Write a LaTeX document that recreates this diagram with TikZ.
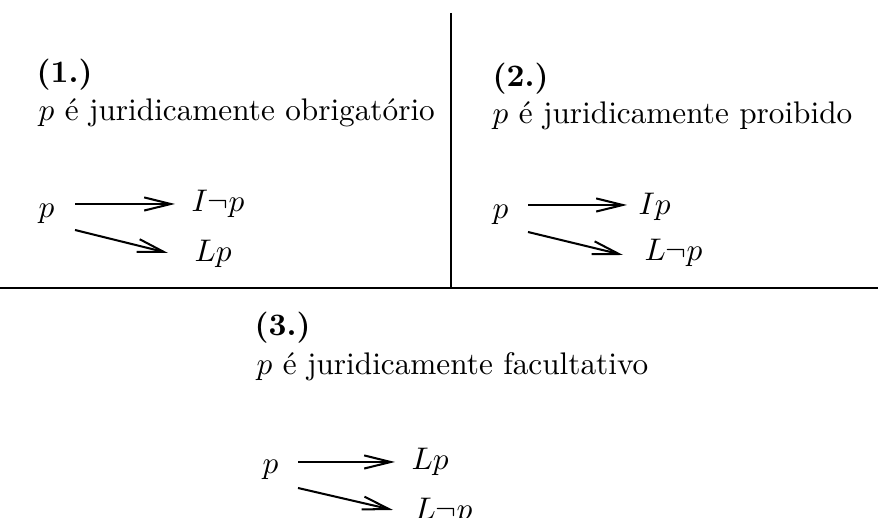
\documentclass[tikz,border=0pt]{standalone}
\usetikzlibrary{arrows.meta}
\begin{document}
\begin{tikzpicture}[x=0.32pt,y=-0.32pt,
  lbl/.style={anchor=base west,inner sep=0pt,font=\normalsize},
  rule/.style={line width=0.75pt},
  arr/.style={line width=0.65pt,-{Straight Barb[length=8.5pt,width=4.2pt,line width=0.65pt]}}]
\useasboundingbox (0,0) rectangle (878,518);
% frame lines
\coordinate (vt) at (451,13);
\coordinate (vb) at (451,288);
\coordinate (hl) at (0,288);
\coordinate (hr) at (878,288);
\draw[rule] (vt) -- (vb);
\draw[rule] (hl) -- (hr);
% panel 1
\node[lbl] (t1) at (36,83) {\textbf{(1.)}};
\node[lbl] (d1) at (38,121) {$p$ é juridicamente obrigatório};
\node[lbl] (p1) at (38,218) {$p$};
\node[lbl] (a1) at (191,212) {$I\neg p$};
\node[lbl] (b1) at (194,262) {$Lp$};
\coordinate (s1a) at (75,204);
\coordinate (e1a) at (175,204);
\coordinate (s1b) at (75,230);
\coordinate (e1b) at (168,253);
\draw[arr] (s1a) -- (e1a);
\draw[arr] (s1b) -- (e1b);
% panel 2
\node[lbl] (t2) at (492,87) {\textbf{(2.)}};
\node[lbl] (d2) at (492,124) {$p$ é juridicamente proibido};
\node[lbl] (p2) at (492,219) {$p$};
\node[lbl] (a2) at (638,215) {$Ip$};
\node[lbl] (b2) at (644,261) {$L\neg p$};
\coordinate (s2a) at (528,205);
\coordinate (e2a) at (627,205);
\coordinate (s2b) at (528,232);
\coordinate (e2b) at (623,255);
\draw[arr] (s2a) -- (e2a);
\draw[arr] (s2b) -- (e2b);
% panel 3
\node[lbl] (t3) at (254,336) {\textbf{(3.)}};
\node[lbl] (d3) at (256,375) {$p$ é juridicamente facultativo};
\node[lbl] (p3) at (262,474) {$p$};
\node[lbl] (a3) at (411,470) {$Lp$};
\node[lbl] (b3) at (414,520) {$L\neg p$};
\coordinate (s3a) at (298,462);
\coordinate (e3a) at (395,462);
\coordinate (s3b) at (298,488);
\coordinate (e3b) at (393,510);
\draw[arr] (s3a) -- (e3a);
\draw[arr] (s3b) -- (e3b);
\end{tikzpicture}
\end{document}
